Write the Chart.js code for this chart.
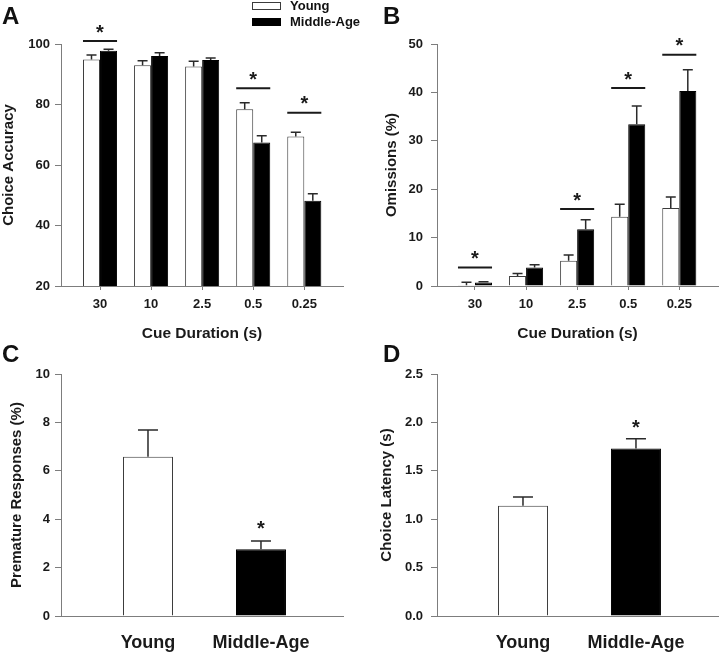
<!DOCTYPE html>
<html>
<head>
<meta charset="utf-8">
<script src="https://cdn.jsdelivr.net/npm/chart.js@4.4.1/dist/chart.umd.min.js"></script>
<style>
  html, body { margin: 0; padding: 0; background: #fff; }
  #figure { position: relative; width: 720px; height: 654px; overflow: hidden; }
  #figure canvas { position: absolute; }
</style>
</head>
<body>
<div id="figure">
  <canvas id="accuracyChart" width="360" height="345" style="left:0;top:0"></canvas>
  <canvas id="omissionsChart" width="360" height="345" style="left:360px;top:0"></canvas>
  <canvas id="prematureChart" width="360" height="324" style="left:0;top:330px"></canvas>
  <canvas id="latencyChart" width="360" height="324" style="left:360px;top:330px"></canvas>
</div>
<script>
const cueDurations = ["30", "10", "2.5", "0.5", "0.25"];
const groupLabels = ["Young", "Middle-Age"];

// A: choice accuracy
const accuracyYoung = [94.9, 93.0, 92.6, 78.4, 69.4];
const accuracyYoungErr = [1.5, 1.5, 1.7, 2.2, 1.4];
const accuracyMiddle = [97.8, 96.0, 94.7, 67.4, 48.2];
const accuracyMiddleErr = [0.5, 1.1, 0.7, 2.3, 2.3];
const accuracySigLevels = [101, null, null, 85.4, 77.3];

// B: omissions
const omissionsYoung = [0.15, 2.07, 5.2, 14.3, 16.1];
const omissionsYoungErr = [0.6, 0.5, 1.2, 2.6, 2.3];
const omissionsMiddle = [0.7, 3.8, 11.7, 33.4, 40.3];
const omissionsMiddleErr = [0.2, 0.6, 2.0, 3.8, 4.4];
const omissionsSigLevels = [3.8, null, 15.9, 40.9, 47.8];

// C: premature responses
const prematureMeans = [6.58, 2.76];
const prematureErr = [1.11, 0.34];
const prematureStars = [null, 3.8];

// D: choice latency
const latencyMeans = [1.14, 1.73];
const latencyErr = [0.09, 0.1];
const latencyStars = [null, 2.0];

Chart.defaults.font.family = "'Liberation Sans', Arial, Helvetica, sans-serif";
Chart.defaults.color = "#1a1a1a";
Chart.defaults.animation = false;

const AXIS_GREY = "#7d7d7d";
const BAR_EDGE = "#3c3c3c";

const toPoints = (values) => values.map((y, i) => ({ x: i + 1, y }));

const errorBarsPlugin = {
  id: "errorBars",
  afterDatasetsDraw(chart, args, opts) {
    const { ctx } = chart;
    const yScale = chart.scales.y;
    ctx.save();
    ctx.strokeStyle = "#2a2a2a";
    ctx.lineWidth = 1.5;
    chart.data.datasets.forEach((dataset, di) => {
      if (!dataset.errors) return;
      chart.getDatasetMeta(di).data.forEach((bar, i) => {
        const err = dataset.errors[i];
        if (err == null) return;
        const top = yScale.getPixelForValue(dataset.data[i].y + err);
        ctx.beginPath();
        ctx.moveTo(bar.x, bar.y);
        ctx.lineTo(bar.x, top);
        ctx.moveTo(bar.x - opts.capHalf, top);
        ctx.lineTo(bar.x + opts.capHalf, top);
        ctx.stroke();
      });
    });
    ctx.restore();
  },
};

const significancePlugin = {
  id: "significance",
  afterDatasetsDraw(chart, args, opts) {
    const { ctx } = chart;
    const yScale = chart.scales.y;
    const firstBars = chart.getDatasetMeta(0).data;
    const lastBars = chart.getDatasetMeta(chart.data.datasets.length - 1).data;
    const starSize = 20;
    ctx.save();
    ctx.fillStyle = "#1a1a1a";
    ctx.strokeStyle = "#1a1a1a";
    ctx.lineWidth = 2;
    ctx.font = `bold ${starSize}px 'Liberation Sans', Arial, sans-serif`;
    ctx.textAlign = "center";
    ctx.textBaseline = "alphabetic";

    (opts.lines || []).forEach((level, i) => {
      if (level == null) return;
      const y = yScale.getPixelForValue(level);
      const left = firstBars[i].x - firstBars[i].width / 2;
      const right = lastBars[i].x + lastBars[i].width / 2;
      ctx.beginPath();
      ctx.moveTo(left, y);
      ctx.lineTo(right, y);
      ctx.stroke();
      ctx.fillText("*", (left + right) / 2, y - 13.5 + starSize * 0.56);
    });

    (opts.stars || []).forEach((level, i) => {
      if (level == null) return;
      const y = yScale.getPixelForValue(level);
      ctx.fillText("*", firstBars[i].x, y + starSize * 0.56);
    });
    ctx.restore();
  },
};

const panelLetterPlugin = {
  id: "panelLetter",
  afterDraw(chart, args, opts) {
    const { ctx } = chart;
    ctx.save();
    ctx.fillStyle = "#111";
    ctx.font = "bold 24px 'Liberation Sans', Arial, sans-serif";
    ctx.textAlign = "left";
    ctx.textBaseline = "alphabetic";
    ctx.fillText(opts.text, opts.x, opts.y);
    ctx.restore();
  },
};

const boxLegendPlugin = {
  id: "boxLegend",
  afterDraw(chart, args, opts) {
    if (!opts.show) return;
    const { ctx } = chart;
    ctx.save();
    ctx.font = "bold 13px 'Liberation Sans', Arial, sans-serif";
    ctx.textBaseline = "middle";
    ctx.textAlign = "left";
    chart.data.datasets.forEach((dataset, i) => {
      const y = opts.y + i * 16;
      ctx.fillStyle = dataset.backgroundColor;
      ctx.fillRect(opts.x, y, 29, 8);
      ctx.strokeStyle = dataset.borderColor;
      ctx.lineWidth = 1;
      ctx.strokeRect(opts.x + 0.5, y + 0.5, 28, 7);
      ctx.fillStyle = "#111";
      ctx.fillText(dataset.label, opts.x + 38, y + 4);
    });
    ctx.restore();
  },
};

function yAxis({ min, max, stepSize, title, width, titleOffset, tickPadding, format }) {
  return {
    min,
    max,
    afterFit: (scale) => {
      scale.width = width;
    },
    border: { display: true, color: AXIS_GREY, width: 1 },
    grid: { drawOnChartArea: false, drawTicks: true, tickLength: 6, color: AXIS_GREY },
    ticks: {
      stepSize,
      padding: tickPadding,
      font: { size: 13, weight: "bold" },
      callback: format || ((value) => value),
    },
    title: {
      display: true,
      text: title,
      font: { size: 15, weight: "bold" },
      padding: { top: titleOffset, bottom: 0 },
    },
  };
}

function xAxis({ min, max, labels, height, tickLength, tickPadding, fontSize, title }) {
  return {
    type: "linear",
    min,
    max,
    offset: false,
    afterFit: (scale) => {
      scale.height = height;
    },
    afterBuildTicks: (scale) => {
      scale.ticks = labels.map((_, i) => ({ value: i + 1 }));
    },
    border: { display: true, color: AXIS_GREY, width: 1 },
    grid: {
      offset: false,
      drawOnChartArea: false,
      drawTicks: tickLength > 0,
      tickLength,
      color: AXIS_GREY,
    },
    ticks: {
      padding: tickPadding,
      autoSkip: false,
      maxRotation: 0,
      font: { size: fontSize, weight: "bold" },
      callback: (value) => labels[value - 1],
    },
    title: title
      ? {
          display: true,
          text: title,
          font: { size: 15.5, weight: "bold" },
          padding: { top: 0, bottom: 2.4 },
        }
      : { display: false },
  };
}

function groupedPanel(canvasId, opts) {
  return new Chart(document.getElementById(canvasId), {
    type: "bar",
    data: {
      datasets: [
        {
          label: groupLabels[0],
          data: toPoints(opts.young),
          errors: opts.youngErr,
          backgroundColor: "#ffffff",
          borderColor: BAR_EDGE,
          borderWidth: 1,
        },
        {
          label: groupLabels[1],
          data: toPoints(opts.middle),
          errors: opts.middleErr,
          backgroundColor: "#000000",
          borderColor: "#000000",
          borderWidth: 1,
        },
      ],
    },
    options: {
      responsive: false,
      categoryPercentage: 0.667,
      barPercentage: 1,
      layout: { padding: { top: 44, right: opts.rightPad, bottom: 0, left: 0 } },
      plugins: {
        legend: { display: false },
        tooltip: { enabled: false },
        errorBars: { capHalf: 5 },
        significance: { lines: opts.sigLevels },
        panelLetter: { text: opts.letter, x: opts.letterX, y: 24 },
        boxLegend: { show: !!opts.legend, x: 252, y: 2 },
      },
      scales: {
        x: xAxis({
          min: opts.xMin,
          max: 5.758,
          labels: cueDurations,
          height: 59,
          tickLength: 4,
          tickPadding: 7,
          fontSize: 13,
          title: "Cue Duration (s)",
        }),
        y: yAxis(opts.y),
      },
    },
    plugins: [errorBarsPlugin, significancePlugin, panelLetterPlugin, boxLegendPlugin],
  });
}

function pairPanel(canvasId, opts) {
  return new Chart(document.getElementById(canvasId), {
    type: "bar",
    data: {
      datasets: [
        {
          label: opts.label,
          data: toPoints(opts.means),
          errors: opts.errors,
          backgroundColor: ["#ffffff", "#000000"],
          borderColor: [BAR_EDGE, "#000000"],
          borderWidth: 1,
        },
      ],
    },
    options: {
      responsive: false,
      categoryPercentage: 0.4425,
      barPercentage: 1,
      layout: { padding: { top: 44, right: opts.rightPad, bottom: 0, left: 0 } },
      plugins: {
        legend: { display: false },
        tooltip: { enabled: false },
        errorBars: { capHalf: 10 },
        significance: { stars: opts.stars },
        panelLetter: { text: opts.letter, x: opts.letterX, y: 32 },
        boxLegend: { show: false },
      },
      scales: {
        x: xAxis({
          min: opts.xMin,
          max: 2.726,
          labels: groupLabels,
          height: 38,
          tickLength: 0,
          tickPadding: 16,
          fontSize: 18,
        }),
        y: yAxis(opts.y),
      },
    },
    plugins: [errorBarsPlugin, significancePlugin, panelLetterPlugin, boxLegendPlugin],
  });
}

groupedPanel("accuracyChart", {
  letter: "A",
  letterX: 2,
  legend: true,
  rightPad: 17,
  xMin: 0.236,
  young: accuracyYoung,
  youngErr: accuracyYoungErr,
  middle: accuracyMiddle,
  middleErr: accuracyMiddleErr,
  sigLevels: accuracySigLevels,
  y: { min: 20, max: 100, stepSize: 20, title: "Choice Accuracy", width: 61, titleOffset: 0, tickPadding: 5 },
});

groupedPanel("omissionsChart", {
  letter: "B",
  letterX: 23,
  legend: false,
  rightPad: 2,
  xMin: 0.256,
  young: omissionsYoung,
  youngErr: omissionsYoungErr,
  middle: omissionsMiddle,
  middleErr: omissionsMiddleErr,
  sigLevels: omissionsSigLevels,
  y: { min: 0, max: 50, stepSize: 10, title: "Omissions (%)", width: 77, titleOffset: 23, tickPadding: 8 },
});

pairPanel("prematureChart", {
  letter: "C",
  letterX: 2,
  label: "Premature Responses (%)",
  rightPad: 17,
  xMin: 0.23,
  means: prematureMeans,
  errors: prematureErr,
  stars: prematureStars,
  y: { min: 0, max: 10, stepSize: 2, title: "Premature Responses (%)", width: 61, titleOffset: 7.5, tickPadding: 5 },
});

pairPanel("latencyChart", {
  letter: "D",
  letterX: 23,
  label: "Choice Latency (s)",
  rightPad: 2,
  xMin: 0.239,
  means: latencyMeans,
  errors: latencyErr,
  stars: latencyStars,
  y: {
    min: 0,
    max: 2.5,
    stepSize: 0.5,
    title: "Choice Latency (s)",
    width: 77,
    titleOffset: 18,
    tickPadding: 8,
    format: (value) => value.toFixed(1),
  },
});
</script>
</body>
</html>
